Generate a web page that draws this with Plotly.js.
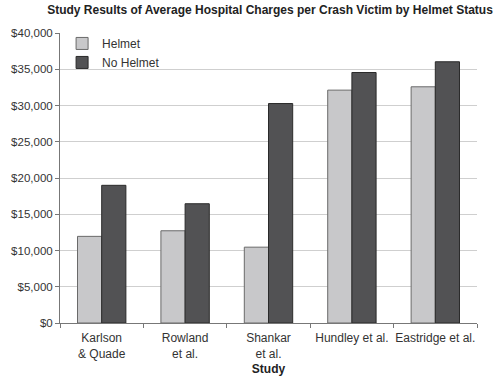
<!DOCTYPE html>
<html><head><meta charset="utf-8">
<script src="https://cdn.plot.ly/plotly-3.0.1.min.js"></script>
<style>body{margin:0;padding:0;background:#fff}#c{width:500px;height:379px}</style>
</head><body><div id="c"></div>
<script>
const studies = ["Karlson<br>& Quade", "Rowland<br>et al.", "Shankar<br>et al.", "Hundley et al.", "Eastridge et al."];
const helmet = [11950, 12720, 10460, 32120, 32580];
const noHelmet = [18990, 16450, 30270, 34550, 36030];
const yTicks = [0, 5000, 10000, 15000, 20000, 25000, 30000, 35000, 40000];
const yTickText = ["$0", "$5,000", "$10,000", "$15,000", "$20,000", "$25,000", "$30,000", "$35,000", "$40,000"];

const F = '"Liberation Sans", Arial, Helvetica, sans-serif';
const data = [
  {type:'bar', name:'Helmet', x:studies, y:helmet,
   marker:{color:'#c8c8ca', line:{color:'#6a6a6a', width:1}}},
  {type:'bar', name:'No Helmet', x:studies, y:noHelmet,
   marker:{color:'#525254', line:{color:'#2a2a2a', width:1}}}
];
const layout = {
  width:500, height:379,
  margin:{l:60, r:23, t:33, b:56},
  paper_bgcolor:'#fff', plot_bgcolor:'#fff',
  font:{family:F, size:12, color:'#333'},
  title:{text:'<b>Study Results of Average Hospital Charges per Crash Victim by Helmet Status</b>',
         font:{family:F, size:12, color:'#222'}, x:0.54, xanchor:'center', y:0.975, yanchor:'middle'},
  barmode:'group', bargap:0.42, bargroupgap:0,
  showlegend:true,
  legend:{x:0.005, y:1.014, xanchor:'left', yanchor:'top', bgcolor:'rgba(0,0,0,0)',
          font:{family:F, size:12, color:'#333'}, tracegroupgap:0, itemwidth:30},
  xaxis:{type:'category', showline:true, linecolor:'#777', linewidth:1,
         ticks:'outside', tickson:'boundaries', ticklen:4, tickcolor:'#777', tickangle:0,
         ticklabelstandoff:4,
         showgrid:false, tickfont:{family:F, size:12, color:'#333'},
         title:{text:'<b>Study</b>', font:{family:F, size:12, color:'#222'}, standoff:4}},
  yaxis:{range:[0,40000], tickvals:yTicks, ticktext:yTickText,
         showline:true, linecolor:'#777', linewidth:1, ticks:'outside', ticklen:4, tickcolor:'#777',
         showgrid:true, gridcolor:'#cfcfcf', gridwidth:1, zeroline:false,
         tickfont:{family:F, size:11.5, color:'#333'}}
};
Plotly.newPlot('c', data, layout, {displayModeBar:false, staticPlot:true});
</script></body></html>
